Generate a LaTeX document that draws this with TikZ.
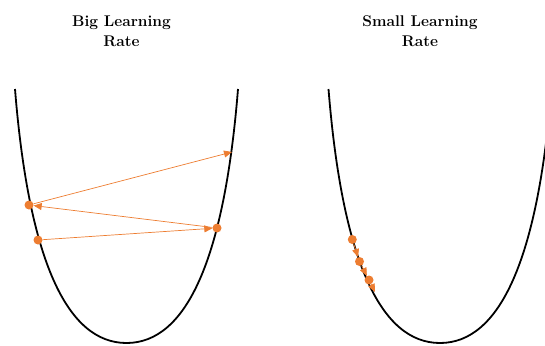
\documentclass[tikz,border=0pt]{standalone}
\usetikzlibrary{arrows.meta,positioning}
\definecolor{lrorange}{RGB}{237,125,49}
\tikzset{
  bowl/.style={line width=1.8pt,black},
  ball/.style={circle,fill=lrorange,inner sep=0pt,minimum size=9pt},
  hop/.style={-{Triangle[length=8pt,width=7pt]},lrorange,line width=0.7pt},
  heading/.style={font=\fontsize{15.5}{20}\selectfont\bfseries,align=center}
}
\begin{document}
\begin{tikzpicture}[x=1pt,y=-1pt]
  \useasboundingbox (0,0) rectangle (545,345);
  \begin{scope}
    \clip (0,0) rectangle (545,345);
    \foreach \cx in {126.5,440} {
      \draw[bowl] (\cx-111.5,89) .. controls (\cx-97.8,259.7) and (\cx-59.7,343) .. (\cx,343)
        .. controls (\cx+59.7,343) and (\cx+97.8,259.7) .. (\cx+111.5,89);
    }
  \end{scope}
  \node[heading] (bigtitle) at (121.5,31) {Big Learning\\Rate};
  \node[heading] (smalltitle) at (420,31) {Small Learning\\Rate};
  % big steps overshoot
  \node[ball] (b1) at (38,240) {};
  \node[ball] (b2) at (217,228) {};
  \node[ball] (b3) at (29,205) {};
  \coordinate (b4) at (232,152);
  \draw[hop] (b1) -- (b2);
  \draw[hop] (b2) -- (b3);
  \draw[hop] (b3) -- (b4);
  % small steps
  \node[ball] (s1) at (352.3,239.5) {};
  \node[ball] (s2) at (359.5,261.5) {};
  \node[ball] (s3) at (369,280) {};
  \coordinate (s4) at (375,292);
  \draw[hop] (s1) -- (s2);
  \draw[hop] (s2) -- (s3);
  \draw[hop] (s3) -- (s4);
\end{tikzpicture}
\end{document}
